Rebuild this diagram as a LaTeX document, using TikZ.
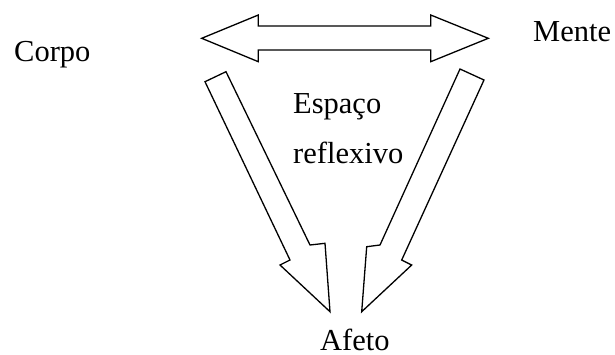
\documentclass[tikz,border=0pt]{standalone}
\usepackage{fontspec}
\setmainfont{Liberation Serif}
\begin{document}
\begin{tikzpicture}[x=1pt,y=-1pt,
  lbl/.style={anchor=base west,inner sep=0pt,font=\fontsize{30.5pt}{36pt}\selectfont},
  bigarrow/.style={draw=black,line width=1.3pt,line join=miter,fill=white}]
\useasboundingbox (0,0) rectangle (615,354);
% double arrow
\draw[bigarrow] (201.7,38.3) -- (258.3,15) -- (258.3,26) -- (430.7,26) -- (430.7,15)
  -- (488.3,38.3) -- (430.7,61.7) -- (430.7,50) -- (258.3,50) -- (258.3,61.7) -- cycle;
% left arrow to Afeto
\draw[bigarrow] (205,81.7) -- (226,71.7) -- (310,245) -- (325,243.3) -- (330,311.7)
  -- (280,265) -- (290,260) -- cycle;
% right arrow to Afeto
\draw[bigarrow] (460,69) -- (484,80) -- (401.7,260) -- (411.7,265) -- (361.7,311.7)
  -- (366.7,246.7) -- (380,245) -- cycle;
\node[lbl] (corpo) at (14,61) {Corpo};
\node[lbl] (mente) at (533,41) {Mente};
\node[lbl] (espaco) at (293,113) {Espaço};
\node[lbl] (reflexivo) at (293,163) {reflexivo};
\node[lbl,text depth=0pt] (afeto) at (320,350.5) {Afeto};
\end{tikzpicture}
\end{document}
